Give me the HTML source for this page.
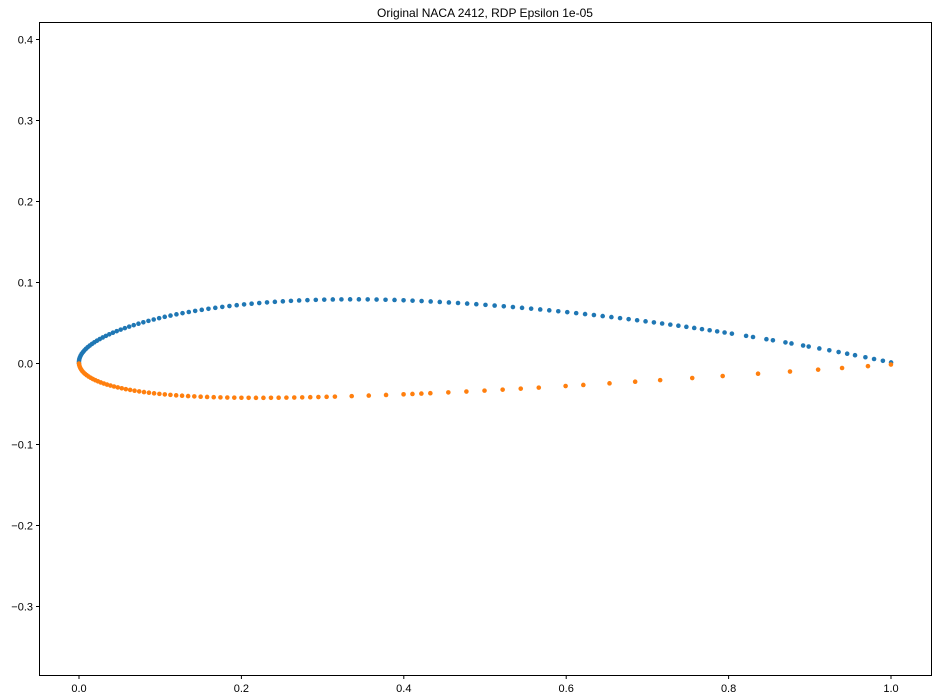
<!DOCTYPE html><html><head><style>body{margin:0;background:#fff}svg{display:block}text{font-family:"Liberation Sans","DejaVu Sans",sans-serif;font-size:11px;fill:#000}</style></head><body>
<svg id="s" width="938" height="699" xmlns="http://www.w3.org/2000/svg">
<rect x="0" y="0" width="938" height="699" fill="#fff"/>
<text x="485" y="17" text-anchor="middle" style="font-size:12px">Original NACA 2412, RDP Epsilon 1e-05</text>
<g id="pts"></g>
<rect x="39.5" y="22.5" width="892" height="653" fill="none" stroke="#000" stroke-width="1"/>
<g id="ax"></g>
</svg>
<script>
const X0=79,XS=812,Y0=363.5,YS=810;
const ns="http://www.w3.org/2000/svg";
function el(t,a,p){const e=document.createElementNS(ns,t);for(const k in a)e.setAttribute(k,a[k]);p.appendChild(e);return e;}
const ax=document.getElementById('ax');
for(let i=0;i<=5;i++){const v=i*0.2,x=X0+v*XS;el('line',{x1:x,x2:x,y1:675.5,y2:679,stroke:'#000'},ax);const t=el('text',{x:x,y:692,'text-anchor':'middle'},ax);t.textContent=v.toFixed(1);}
for(let i=-3;i<=4;i++){const v=i*0.1,y=Y0-v*YS;el('line',{x1:36,x2:39.5,y1:y,y2:y,stroke:'#000'},ax);const t=el('text',{x:33,y:y+4,'text-anchor':'end'},ax);t.textContent=(i<0?'\u22120.':'0.')+Math.abs(i);}
const m=0.02,p=0.4,tt=0.12;
function surf(upper,N){const r=[];for(let i=0;i<=N;i++){const b=Math.PI*i/N;const x=(1-Math.cos(b))/2;
const yt=5*tt*(0.2969*Math.sqrt(x)-0.126*x-0.3516*x*x+0.2843*x**3-0.1015*x**4);
let yc,dy;if(x<p){yc=m/(p*p)*(2*p*x-x*x);dy=2*m/(p*p)*(p-x);}else{yc=m/((1-p)**2)*((1-2*p)+2*p*x-x*x);dy=2*m/((1-p)**2)*(p-x);}
const th=Math.atan(dy);r.push(upper?[x-yt*Math.sin(th),yc+yt*Math.cos(th)]:[x+yt*Math.sin(th),yc-yt*Math.cos(th)]);}return r;}
function rdp(pts,eps){if(pts.length<3)return pts;const a=pts[0],b=pts[pts.length-1];let dm=0,idx=0;const dx=b[0]-a[0],dy=b[1]-a[1],L=Math.hypot(dx,dy);
for(let i=1;i<pts.length-1;i++){const d=Math.abs(dy*pts[i][0]-dx*pts[i][1]+b[0]*a[1]-b[1]*a[0])/L;if(d>dm){dm=d;idx=i;}}
if(dm>eps){const l=rdp(pts.slice(0,idx+1),eps),r=rdp(pts.slice(idx),eps);return l.slice(0,-1).concat(r);}return [a,b];}
const g=document.getElementById('pts');
const up=rdp(surf(true,140),1e-5),lo=rdp(surf(false,140),1e-5);
up.forEach(q=>el('circle',{cx:X0+q[0]*XS,cy:Y0-q[1]*YS,r:2.3,fill:'#1f77b4'},g));
lo.forEach(q=>el('circle',{cx:X0+q[0]*XS,cy:Y0-q[1]*YS,r:2.3,fill:'#ff7f0e'},g));
</script>
</body></html>
